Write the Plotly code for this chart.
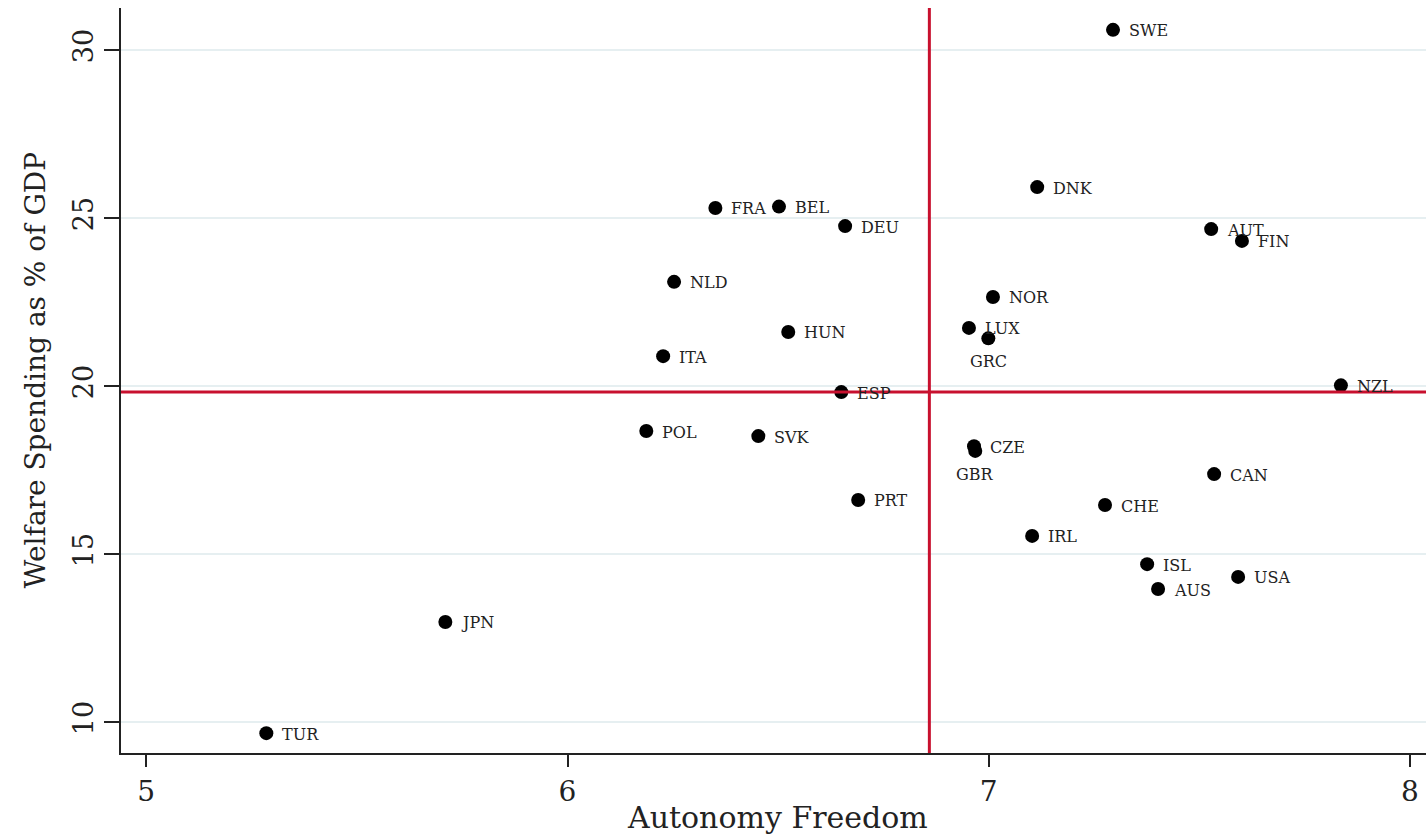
import plotly.graph_objects as go

countries = ["SWE", "DNK", "FRA", "BEL", "DEU", "AUT", "FIN", "NLD", "NOR", "HUN",
             "LUX", "GRC", "ITA", "NZL", "ESP", "POL", "SVK", "CZE", "GBR", "CAN",
             "PRT", "CHE", "IRL", "ISL", "USA", "AUS", "JPN", "TUR"]
autonomy = [7.295, 7.115, 6.351, 6.502, 6.659, 7.528, 7.601, 6.253, 7.010, 6.524,
            6.953, 6.999, 6.227, 7.836, 6.650, 6.187, 6.453, 6.965, 6.968, 7.535,
            6.690, 7.276, 7.103, 7.376, 7.592, 7.402, 5.710, 5.285]
welfare = [30.60, 25.92, 25.30, 25.34, 24.76, 24.67, 24.32, 23.10, 22.65, 21.61,
           21.73, 21.42, 20.89, 20.02, 19.82, 18.66, 18.51, 18.21, 18.07, 17.38,
           16.61, 16.46, 15.54, 14.70, 14.32, 13.96, 12.98, 9.67]
below_labels = ["GRC", "GBR"]
mean_autonomy = 6.859
mean_welfare = 19.82
x_ticks = [5, 6, 7, 8]
y_ticks = [10, 15, 20, 25, 30]
x_title = "Autonomy Freedom"
y_title = "Welfare Spending as % of GDP"

FONT = "DejaVu Serif"
RED = "#c8102e"
INK = "#222222"

fig = go.Figure()
fig.add_trace(go.Scatter(
    x=autonomy, y=welfare, mode="markers",
    marker=dict(size=14, color="black"),
    hoverinfo="text", text=countries, showlegend=False,
))

for c, xv, yv in zip(countries, autonomy, welfare):
    if c in below_labels:
        fig.add_annotation(x=xv, y=yv, text=c, showarrow=False,
                           xanchor="center", yanchor="top", yshift=-12,
                           font=dict(family=FONT, size=16, color=INK))
    else:
        fig.add_annotation(x=xv, y=yv, text=c, showarrow=False,
                           xanchor="left", yanchor="middle", xshift=14, yshift=-1,
                           font=dict(family=FONT, size=16, color=INK))

fig.add_shape(type="line", xref="x", yref="paper", x0=mean_autonomy, x1=mean_autonomy,
              y0=0, y1=1, line=dict(color=RED, width=3))
fig.add_shape(type="line", xref="paper", yref="y", x0=0, x1=1,
              y0=mean_welfare, y1=mean_welfare, line=dict(color=RED, width=3))

fig.add_annotation(xref="paper", yref="paper", x=0.5027, xanchor="center",
                   y=0, yanchor="middle", yshift=-64, showarrow=False,
                   text=x_title, font=dict(family=FONT, size=30, color=INK))
fig.add_annotation(xref="paper", yref="paper", x=0, y=0.5, xanchor="center",
                   yanchor="middle", xshift=-86, yshift=10, showarrow=False, textangle=-90,
                   text=y_title, font=dict(family=FONT, size=28, color=INK))

fig.update_layout(
    width=1426, height=835,
    margin=dict(l=121, r=0, t=8, b=82),
    paper_bgcolor="white", plot_bgcolor="white",
    font=dict(family=FONT, color=INK),
)
fig.update_xaxes(
    range=[4.94, 8.038], tickvals=x_ticks, ticktext=[str(v) for v in x_ticks],
    ticks="outside", ticklen=12, tickwidth=2, tickcolor=INK,
    showline=True, linecolor=INK, linewidth=2,
    showgrid=False, zeroline=False,
    tickfont=dict(family=FONT, size=28, color=INK),
)
fig.update_yaxes(
    range=[9.08, 31.25], tickvals=y_ticks, ticktext=[str(v) for v in y_ticks],
    ticks="outside", ticklen=15, tickwidth=2, tickcolor=INK,
    showline=True, linecolor=INK, linewidth=2,
    showgrid=True, gridcolor="#e6eff1", gridwidth=2, zeroline=False,
    tickangle=-90, tickfont=dict(family=FONT, size=27, color=INK),
)

fig.write_html("out.html", config={"displayModeBar": False},
               post_script="document.body.style.margin='0';document.body.style.overflow='hidden';")
